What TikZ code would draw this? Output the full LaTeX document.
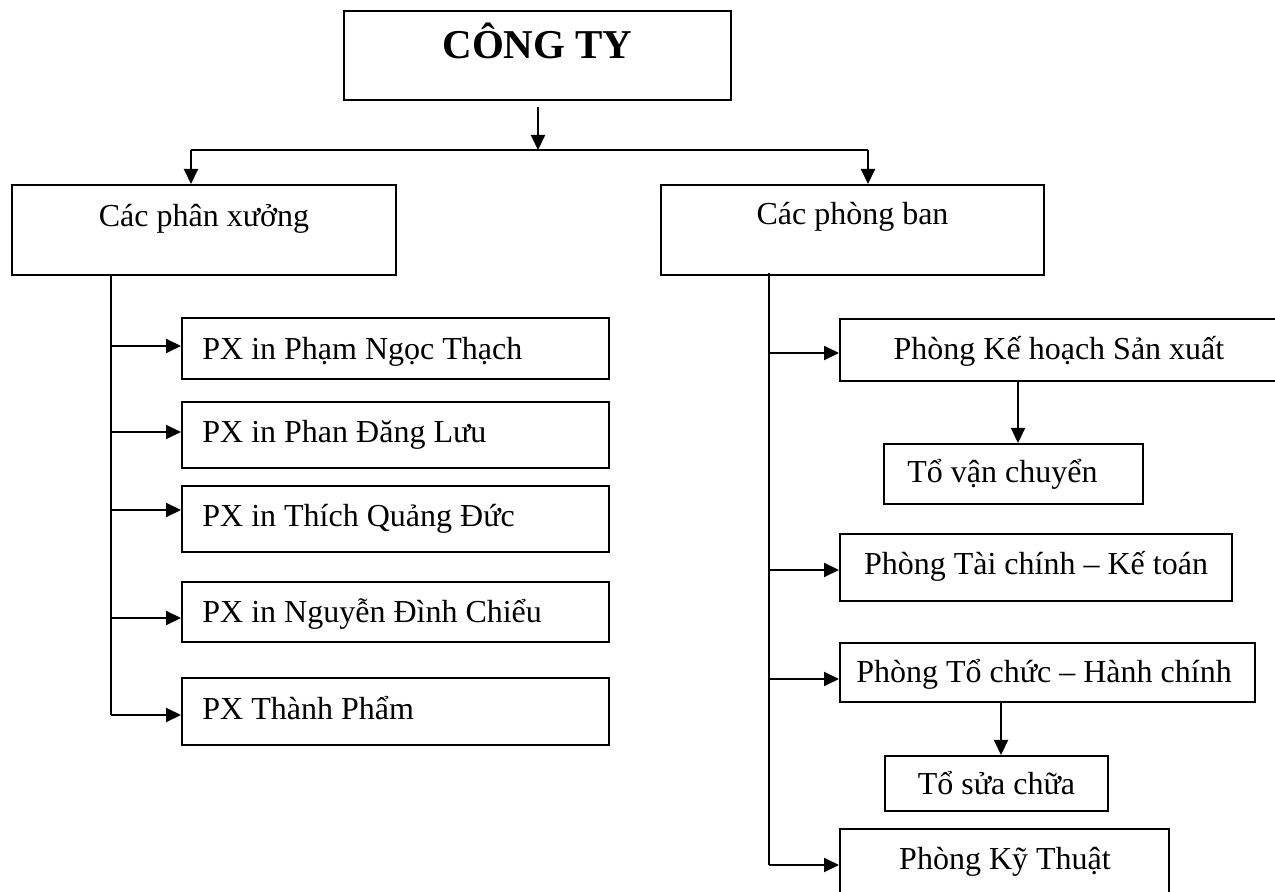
\documentclass[tikz,border=0pt]{standalone}
\usepackage{fontspec}
\setmainfont{Liberation Serif}
\usetikzlibrary{arrows.meta}
\begin{document}
\begin{tikzpicture}[x=0.5pt,y=-0.5pt,
  bx/.style={draw, line width=1pt, inner sep=0pt, rectangle},
  lbl/.style={inner sep=0pt, font=\fontsize{16}{19}\selectfont},
  ttl/.style={inner sep=0pt, font=\fontsize{20.5}{24}\selectfont\bfseries},
  con/.style={line width=1pt},
  arr/.style={line width=1pt, -{Triangle[length=7.5pt,width=7pt]}}]
\useasboundingbox (0,0) rectangle (1275,892);
\clip (0,0) rectangle (1275,892);

% top
\node[bx, minimum width=193.5pt, minimum height=44.5pt] (ct) at (537.5,55.5) {};
\node[ttl, anchor=base] (ctt) at (537.5,59) {CÔNG TY};

\node[bx, minimum width=192pt, minimum height=45pt] (px) at (204,230) {};
\node[lbl, anchor=base] (pxt) at (204,227) {Các phân xưởng};
\node[bx, minimum width=191.5pt, minimum height=45pt] (pb) at (852.5,230) {};
\node[lbl, anchor=base] (pbt) at (852.5,225) {Các phòng ban};

\coordinate (j) at (538,150);
\coordinate (jl) at (191,150);
\coordinate (jr) at (868,150);
\draw[arr] ([yshift=-3pt]ct.south -| j) -- (j);
\draw[con] (jl) -- (jr);
\draw[arr] (jl) -- (jl |- px.north);
\draw[arr] (jr) -- (jr |- pb.north);

% left column
\node[bx, minimum width=213.5pt, minimum height=30.5pt] (px1) at (395.5,348.5) {};
\node[bx, minimum width=213.5pt, minimum height=33pt] (px2) at (395.5,435) {};
\node[bx, minimum width=213.5pt, minimum height=33pt] (px3) at (395.5,519) {};
\node[bx, minimum width=213.5pt, minimum height=30pt] (px4) at (395.5,612) {};
\node[bx, minimum width=213.5pt, minimum height=33.5pt] (px5) at (395.5,711.5) {};
\node[lbl, anchor=base west] (px1t) at (202,360) {PX in Phạm Ngọc Thạch};
\node[lbl, anchor=base west] (px2t) at (202,443) {PX in Phan Đăng Lưu};
\node[lbl, anchor=base west] (px3t) at (202,527) {PX in Thích Quảng Đức};
\node[lbl, anchor=base west] (px4t) at (202,623) {PX in Nguyễn Đình Chiểu};
\node[lbl, anchor=base west] (px5t) at (202,720) {PX Thành Phẩm};

\coordinate (l1) at (111,346);
\coordinate (l2) at (111,432);
\coordinate (l3) at (111,510);
\coordinate (l4) at (111,618);
\coordinate (l5) at (111,715);
\draw[con] (px.south -| l5) -- (l5);
\draw[arr] (l1) -- (l1 -| px1.west);
\draw[arr] (l2) -- (l2 -| px2.west);
\draw[arr] (l3) -- (l3 -| px3.west);
\draw[arr] (l4) -- (l4 -| px4.west);
\draw[arr] (l5) -- (l5 -| px5.west);

% right column
\node[bx, minimum width=225pt, minimum height=31pt] (kh) at (1065,350) {};
\node[bx, minimum width=129.5pt, minimum height=30pt] (vc) at (1013.5,474) {};
\node[bx, minimum width=196pt, minimum height=33.5pt] (tc) at (1036,567.5) {};
\node[bx, minimum width=207.5pt, minimum height=29.5pt] (to) at (1047.5,672.5) {};
\node[bx, minimum width=111.5pt, minimum height=27.5pt] (sc) at (996.5,783.5) {};
\node[bx, minimum width=164.5pt, minimum height=38pt] (kt) at (1004.5,867) {};

\node[lbl, anchor=base] (kht) at (1059,360) {Phòng Kế hoạch Sản xuất};
\node[lbl, anchor=base west] (vct) at (907,483) {Tổ vận chuyển};
\node[lbl, anchor=base] (tct) at (1036,575) {Phòng Tài chính – Kế toán};
\node[lbl, anchor=base] (tot) at (1044,683) {Phòng Tổ chức – Hành chính};
\node[lbl, anchor=base] (sct) at (996.5,795) {Tổ sửa chữa};
\node[lbl, anchor=base] (ktt) at (1005,869) {Phòng Kỹ Thuật};

\coordinate (r1) at (769,353);
\coordinate (r2) at (769,570);
\coordinate (r3) at (769,679);
\coordinate (r4) at (769,865);
\draw[con] ([yshift=1.5pt]pb.south -| r4) -- (r4);
\draw[arr] (r1) -- (r1 -| kh.west);
\draw[arr] (r2) -- (r2 -| tc.west);
\draw[arr] (r3) -- (r3 -| to.west);
\draw[arr] (r4) -- (r4 -| kt.west);

\coordinate (d1) at (1018,400);
\coordinate (d2) at (1001,730);
\draw[arr] (kh.south -| d1) -- (vc.north -| d1);
\draw[arr] (to.south -| d2) -- (sc.north -| d2);
\end{tikzpicture}
\end{document}
